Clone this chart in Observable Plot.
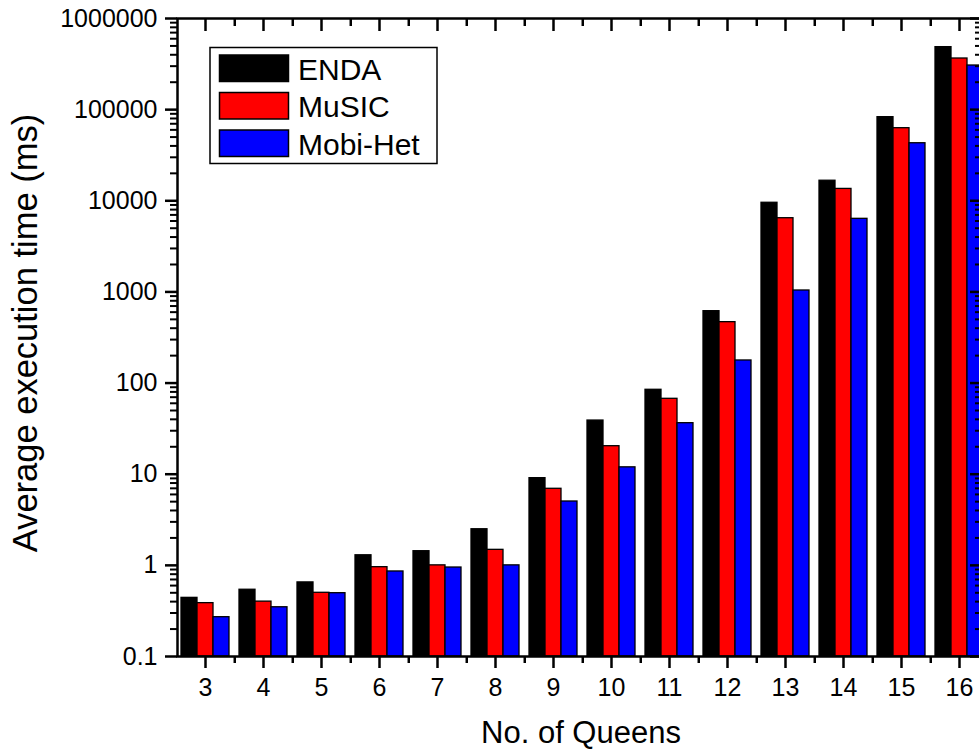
<!DOCTYPE html>
<html>
<head>
<meta charset="utf-8">
<script src="https://cdn.jsdelivr.net/npm/d3@7"></script>
<script src="https://cdn.jsdelivr.net/npm/@observablehq/plot@0.6"></script>
<style>
  html, body { margin: 0; padding: 0; background: #fff; }
  #chart { width: 979px; height: 752px; overflow: hidden; }
</style>
</head>
<body>
<div id="chart"></div>
<script>
// Average execution time (ms) of the N-Queens benchmark per approach
const queens = [3, 4, 5, 6, 7, 8, 9, 10, 11, 12, 13, 14, 15, 16];
const seriesNames = ["ENDA", "MuSIC", "Mobi-Het"];
const enda    = [0.44, 0.54, 0.65, 1.29, 1.43, 2.49, 9.05, 38.8, 84.4, 615, 9510, 16600, 82700, 485000];
const music   = [0.385, 0.40, 0.50, 0.955, 1.0, 1.48, 6.92, 20.3, 67.2, 466, 6440, 13500, 62600, 364000];
const mobiHet = [0.27, 0.347, 0.495, 0.857, 0.947, 1.0, 5.02, 11.9, 36.3, 177, 1037, 6340, 42800, 305000];
const seriesColors = ["#000000", "#ff0000", "#0000ff"];

// y axis: labelled decades plus unlabelled 2..9 minor ticks
const yMajorTicks = [0.1, 1, 10, 100, 1000, 10000, 100000, 1000000];
const yMinorTicks = yMajorTicks.slice(0, -1)
  .flatMap(d => [2, 3, 4, 5, 6, 7, 8, 9].map(m => +(d * m).toPrecision(3)));

const seriesValues = [enda, music, mobiHet];

const font = "'Liberation Sans', Arial, Helvetica, sans-serif";
const paddingInner = 0.18;
const groupStep = 809 / (queens.length - paddingInner); // one queen group incl. gap
const barWidth = groupStep * (1 - paddingInner) / seriesNames.length;
const axisStroke = {stroke: "#000", strokeWidth: 2.5, label: null};

// one bar per series inside each queen band, placed side by side with insets
const seriesBars = seriesNames.map((name, j) =>
  Plot.barY(queens, {
    x: q => q,
    y1: 0.1,
    y2: (q, i) => seriesValues[j][i],
    fill: seriesColors[j],
    stroke: "#000",
    strokeWidth: 1.3,
    insetLeft: j * barWidth,
    insetRight: (seriesNames.length - 1 - j) * barWidth
  })
);

const plot = Plot.plot({
  width: 979,
  height: 752,
  marginLeft: 177,
  marginRight: -7,
  marginTop: 18,
  marginBottom: 96,
  style: {fontFamily: font, background: "#fff", color: "#000"},
  x: {type: "band", domain: queens, paddingInner, paddingOuter: 0},
  y: {type: "log", domain: [0.1, 1000000]},
  marks: [
    ...seriesBars,
    Plot.frame({stroke: "#000", strokeWidth: 2.5, insetRight: 5}),
    // left axis with labels, ticks outward
    Plot.axisY(yMajorTicks, {
      anchor: "left", tickSize: 12, tickPadding: 8, fontSize: 25,
      tickFormat: d => String(d), fill: "#000", ...axisStroke
    }),
    Plot.axisY(yMinorTicks, {anchor: "left", tickSize: 7, fill: "none", ...axisStroke, strokeWidth: 2}),
    // right axis, ticks inward
    Plot.axisY(yMajorTicks, {anchor: "right", tickSize: -12, dx: -5, fill: "none", ...axisStroke}),
    Plot.axisY(yMinorTicks, {anchor: "right", tickSize: -7, dx: -5, fill: "none", ...axisStroke, strokeWidth: 2}),
    // bottom axis: labelled group ticks plus minor ticks between groups
    Plot.axisX(queens, {
      anchor: "bottom", tickSize: 12, tickPadding: 10, fontSize: 25,
      tickFormat: d => String(d), fill: "#000", ...axisStroke
    }),
    Plot.axisX(queens.slice(0, -1), {anchor: "bottom", tickSize: 7, dx: groupStep / 2, fill: "none", ...axisStroke}),
    // top axis, ticks inward
    Plot.axisX(queens, {anchor: "top", tickSize: -12, fill: "none", ...axisStroke}),
    Plot.axisX(queens.slice(0, -1), {anchor: "top", tickSize: -7, dx: groupStep / 2, fill: "none", ...axisStroke})
  ]
});

document.getElementById("chart").append(plot);

// titles and legend drawn over the plot
const svg = d3.select(plot);
const yRange = plot.scale("y").range;
const frameTop = Math.min(...yRange), frameBottom = Math.max(...yRange);

svg.append("text")
  .attr("x", 581).attr("y", 743)
  .attr("text-anchor", "middle")
  .attr("font-family", font).attr("font-size", 31).attr("fill", "#000")
  .text("No. of Queens");

svg.append("text")
  .attr("transform", `translate(37, ${(frameTop + frameBottom) / 2 - 4}) rotate(-90)`)
  .attr("text-anchor", "middle")
  .attr("font-family", font).attr("font-size", 34.5).attr("fill", "#000")
  .text("Average execution time (ms)");

const legend = svg.append("g").attr("text-anchor", "start");
legend.append("rect")
  .attr("x", 210).attr("y", 47.5).attr("width", 227).attr("height", 116)
  .attr("fill", "#fff").attr("stroke", "#000").attr("stroke-width", 1.5);
seriesNames.forEach((name, i) => {
  const y0 = 55 + i * 37.5;
  legend.append("rect")
    .attr("x", 219.5).attr("y", y0).attr("width", 69).attr("height", 26.5)
    .attr("fill", seriesColors[i]).attr("stroke", "#000").attr("stroke-width", 1.5);
  legend.append("text")
    .attr("x", 298).attr("y", y0 + 24.5)
    .attr("text-anchor", "start")
    .attr("font-family", font).attr("font-size", 30).attr("fill", "#000")
    .text(name);
});
</script>
</body>
</html>
